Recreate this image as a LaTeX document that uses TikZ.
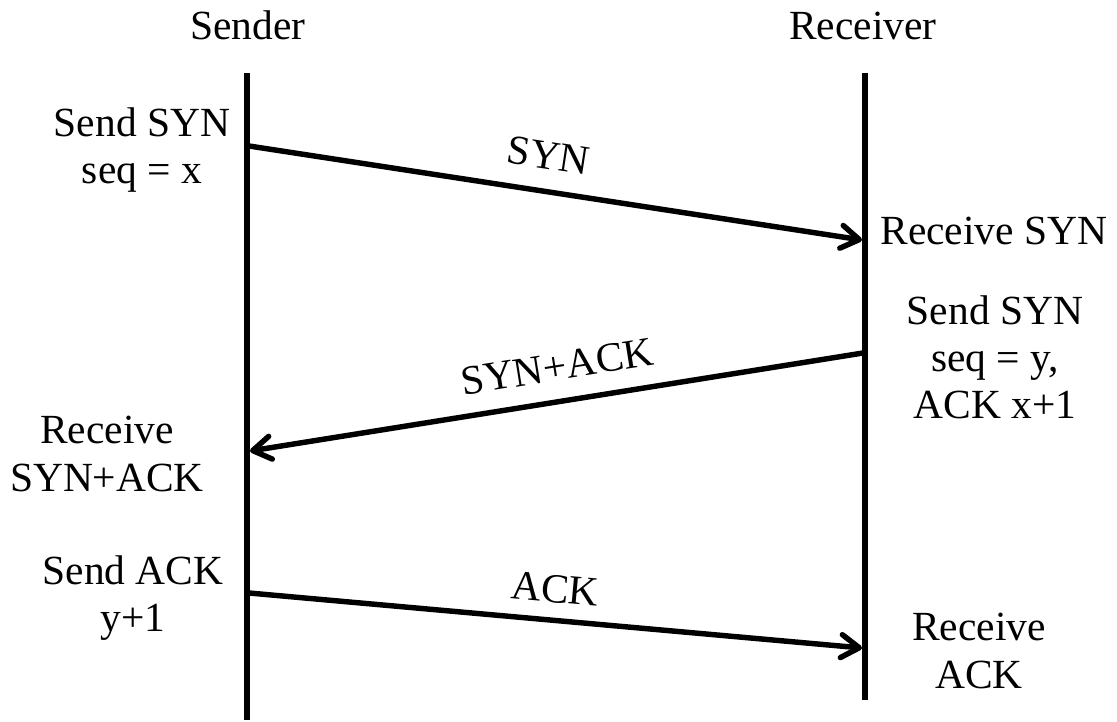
\documentclass[tikz,border=0pt]{standalone}
\usepackage{fontspec}
\setmainfont{Liberation Serif}
\usetikzlibrary{arrows.meta}

\begin{document}
\begin{tikzpicture}[x=0.02cm, y=-0.02cm,
  lifeline/.style={line width=3.1pt},
  msg/.style={line width=3.1pt, line cap=round,
              -{Straight Barb[length=0.36cm, width=0.46cm, round]}},
  txt/.style={font=\fontsize{23.6pt}{26.8pt}\selectfont, align=center, inner sep=0pt},
]
  \useasboundingbox (0,0) rectangle (1117,722);
  % lifelines
  \coordinate (s0) at (247,73);  \coordinate (s1) at (247,720);
  \coordinate (r0) at (865,73);  \coordinate (r1) at (865,700);
  \draw[lifeline] (s0) -- (s1);
  \draw[lifeline] (r0) -- (r1);
  \node[txt, anchor=base] (sender)   at (248,40) {Sender};
  \node[txt, anchor=base] (receiver) at (863,40) {Receiver};
  % message end points
  \coordinate (m1a) at (249,146); \coordinate (m1b) at (862,240);
  \coordinate (m2a) at (863,353); \coordinate (m2b) at (250,451);
  \coordinate (m3a) at (249,593); \coordinate (m3b) at (862,648);
  \draw[msg] (m1a) -- node[txt, sloped, pos=0.48, above=0.38cm] (syn) {SYN} (m1b);
  \draw[msg] (m2a) -- node[txt, sloped, pos=0.49, above=0.36cm] (synack) {SYN+ACK} (m2b);
  \draw[msg] (m3a) -- node[txt, sloped, pos=0.495, above=0.29cm] (ack) {ACK} (m3b);
  % events
  \node[txt] (sendsyn)    at (142,150) {Send SYN\\seq = x};
  \node[txt, anchor=base west] (recvsyn) at (880,245) {Receive SYN};
  \node[txt] (sendsynack) at (995,357) {Send SYN\\seq = y,\\ACK x+1};
  \node[txt] (recvsynack) at (107,454) {Receive\\SYN+ACK};
  \node[txt] (sendack)    at (133,598) {Send ACK\\y+1};
  \node[txt] (recvack)    at (979,651) {Receive\\ACK};
\end{tikzpicture}
\end{document}
